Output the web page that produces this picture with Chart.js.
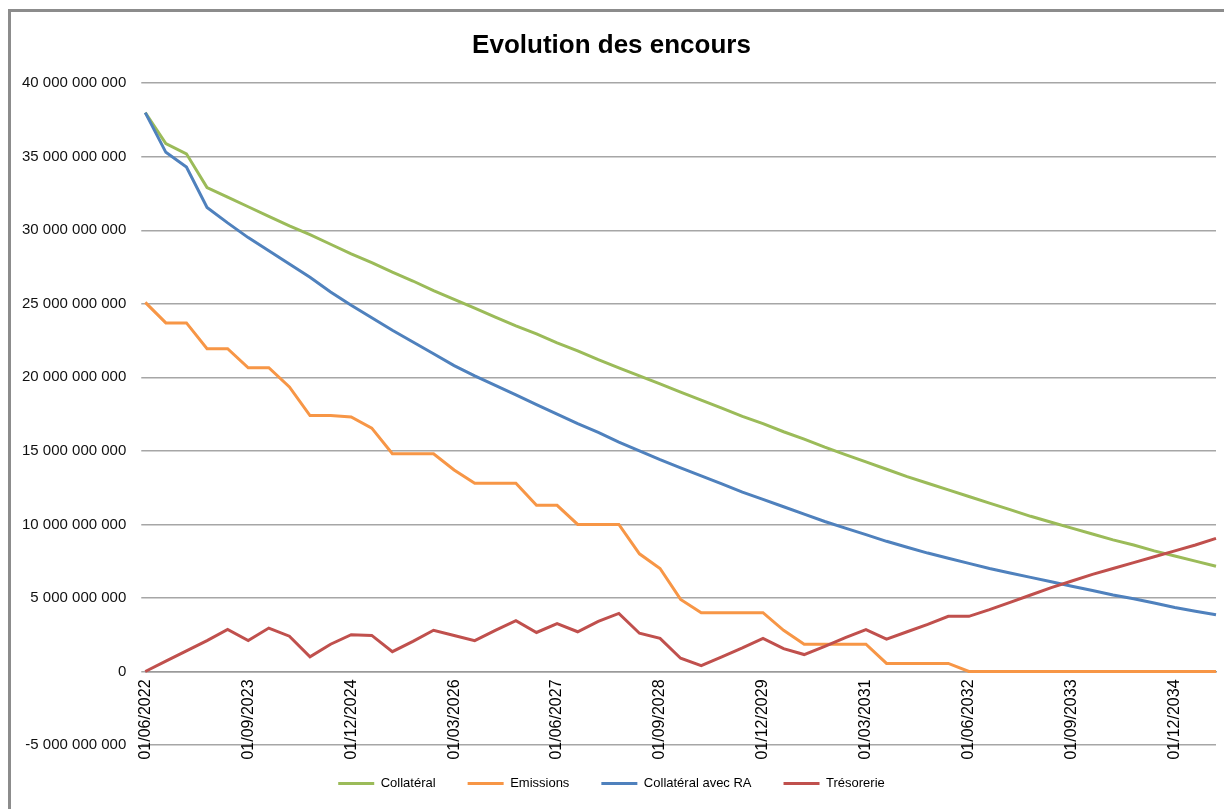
<!DOCTYPE html>
<html>
<head>
<meta charset="utf-8">
<script src="https://cdn.jsdelivr.net/npm/chart.js@4"></script>
<style>
  html, body { margin: 0; padding: 0; background: #fff; overflow: hidden; }
  .frame { position: absolute; left: 8px; top: 9px; width: 1400px; height: 1000px;
           border-left: 3px solid #8c8c8c; border-top: 3px solid #8c8c8c; }
  .wrap { position: absolute; left: 0; top: 0; width: 1224px; height: 809px; }
</style>
</head>
<body>
<div class="frame"></div>
<div class="wrap"><canvas class="chart"></canvas></div>
<script>
// dates trimestrielles 01/06/2022 -> 01/06/2035
const dates = [];
for (let i = 0; i < 53; i++) {
  const m = 6 + 3 * i;
  const y = 2022 + Math.floor((m - 1) / 12);
  const mm = ((m - 1) % 12) + 1;
  dates.push('01/' + String(mm).padStart(2, '0') + '/' + y);
}
const labelEvery = 5;

// valeurs en milliards
const collateral = [38.0, 35.9, 35.2, 32.9, 32.25, 31.6, 30.95, 30.3, 29.7, 29.05,
  28.4, 27.8, 27.15, 26.55, 25.9, 25.3, 24.7, 24.1, 23.5, 22.95,
  22.35, 21.8, 21.2, 20.65, 20.1, 19.55, 19.0, 18.45, 17.9, 17.35,
  16.85, 16.3, 15.8, 15.25, 14.75, 14.25, 13.75, 13.25, 12.8, 12.35,
  11.9, 11.45, 11.0, 10.55, 10.15, 9.75, 9.35, 8.95, 8.6, 8.2,
  7.85, 7.5, 7.15];
const emissions = [25.1, 23.7, 23.7, 21.95, 21.95, 20.65, 20.65, 19.35, 17.4, 17.4,
  17.3, 16.55, 14.8, 14.8, 14.8, 13.7, 12.8, 12.8, 12.8, 11.3,
  11.3, 10.0, 10.0, 10.0, 8.0, 7.0, 4.9, 4.0, 4.0, 4.0,
  4.0, 2.8, 1.85, 1.85, 1.85, 1.85, 0.55, 0.55, 0.55, 0.55,
  0, 0, 0, 0, 0, 0, 0, 0, 0, 0,
  0, 0, 0];
const collateralRA = [38.0, 35.3, 34.3, 31.55, 30.5, 29.5, 28.6, 27.7, 26.8, 25.8,
  24.9, 24.05, 23.2, 22.4, 21.6, 20.8, 20.1, 19.45, 18.8, 18.15,
  17.5, 16.85, 16.25, 15.6, 15.0, 14.4, 13.85, 13.3, 12.75, 12.2,
  11.7, 11.2, 10.7, 10.2, 9.75, 9.3, 8.85, 8.45, 8.05, 7.7,
  7.35, 7.0, 6.7, 6.4, 6.1, 5.8, 5.5, 5.2, 4.95, 4.65,
  4.35, 4.1, 3.85];
const tresorerie = [0, 0.7, 1.4, 2.1, 2.85, 2.1, 2.95, 2.4, 1.0, 1.85,
  2.5, 2.45, 1.35, 2.05, 2.8, 2.45, 2.1, 2.8, 3.45, 2.65,
  3.25, 2.7, 3.4, 3.95, 2.6, 2.25, 0.9, 0.4, 1.0, 1.6,
  2.25, 1.55, 1.15, 1.7, 2.3, 2.85, 2.2, 2.7, 3.2, 3.75,
  3.75, 4.2, 4.7, 5.2, 5.7, 6.15, 6.6, 7.0, 7.4, 7.8,
  8.2, 8.6, 9.05];

const yMin = -5e9, yMax = 40e9, yStep = 5e9;

const toEuros = (arr) => arr.map(v => v * 1e9);
const fmt = (v) => Math.round(v).toString().replace(/\B(?=(\d{3})+(?!\d))/g, ' ');

const serie = (label, values, color, order) => ({
  label: label,
  data: toEuros(values),
  borderColor: color,
  backgroundColor: color,
  borderWidth: 3,
  pointRadius: 0,
  tension: 0,
  fill: false,
  order: order
});

const canvas = document.querySelector('.chart');
new Chart(canvas, {
  type: 'line',
  data: {
    labels: dates,
    datasets: [
      serie('Collatéral', collateral, '#9bbb59', 4),
      serie('Emissions', emissions, '#f79646', 3),
      serie('Collatéral avec RA', collateralRA, '#4f81bd', 2),
      serie('Trésorerie', tresorerie, '#c0504d', 1)
    ]
  },
  options: {
    responsive: true,
    maintainAspectRatio: false,
    animation: false,
    layout: { padding: { left: 7, right: 8, top: 14, bottom: 9 } },
    plugins: {
      title: {
        display: true,
        text: 'Evolution des encours',
        color: '#000',
        font: { family: 'Liberation Sans, Arial, sans-serif', size: 26, weight: 'bold' },
        padding: { top: 16, bottom: 22 }
      },
      legend: {
        position: 'bottom',
        labels: {
          sort: (a, b) => a.datasetIndex - b.datasetIndex,
          usePointStyle: true,
          pointStyle: 'line',
          pointStyleWidth: 36,
          padding: 32,
          color: '#000',
          font: { family: 'Liberation Sans, Arial, sans-serif', size: 13 }
        }
      },
      tooltip: { enabled: false }
    },
    scales: {
      x: {
        position: { y: 0 },
        offset: false,
        grid: { display: false },
        border: { display: true, color: '#9a9a9a', width: 1.5 },
        afterFit: (scale) => { scale.paddingRight = 0; },
        ticks: {
          autoSkip: false,
          minRotation: 90,
          maxRotation: 90,
          padding: 0,
          color: '#000',
          font: { family: 'Liberation Sans, Arial, sans-serif', size: 16 },
          callback: (val, i) => (i % labelEvery === 0 ? dates[i] : '')
        }
      },
      y: {
        min: yMin,
        max: yMax,
        border: { display: false },
        grid: { color: '#a6a6a6', lineWidth: 1.5, tickLength: 4 },
        ticks: {
          stepSize: yStep,
          padding: 15,
          color: '#111',
          font: { family: 'Liberation Sans, Arial, sans-serif', size: 15 },
          callback: (v) => fmt(v)
        }
      }
    }
  }
});
</script>
</body>
</html>
